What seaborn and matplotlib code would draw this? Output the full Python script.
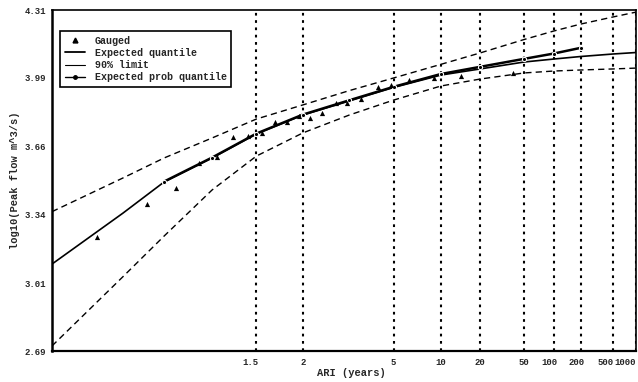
import math
import numpy as np
import pandas as pd
import matplotlib
matplotlib.use("Agg")
import matplotlib.pyplot as plt
import matplotlib.transforms as mtransforms
from matplotlib.lines import Line2D
import seaborn as sns
from statistics import NormalDist

# Annual recurrence intervals (years) at which the fitted curves are evaluated
curve_ari = [1.0101, 1.05, 1.11, 1.25, 1.5, 2, 3, 5, 10, 20, 50, 100, 200, 500, 1000]
# log10 peak flow quantiles
expected_q = [3.103, 3.345, 3.493, 3.607, 3.721, 3.811, 3.878, 3.942, 4.001, 4.030,
              4.063, 4.077, 4.089, 4.101, 4.108]
upper_90 = [3.352, 3.512, 3.607, 3.702, 3.792, 3.859, 3.927, 3.987, 4.052, 4.106,
            4.170, 4.210, 4.243, 4.277, 4.300]
lower_90 = [2.714, 3.043, 3.236, 3.455, 3.616, 3.726, 3.811, 3.882, 3.949, 3.982,
            4.011, 4.020, 4.025, 4.030, 4.034]

prob_ari = [1.11, 1.25, 1.5, 2, 3, 5, 10, 20, 50, 100, 200]
prob_q = [3.495, 3.609, 3.723, 3.813, 3.881, 3.945, 4.006, 4.040, 4.078, 4.103, 4.130]

# Gauged annual maxima at their plotting positions
gauged_ari = [1.029, 1.080, 1.136, 1.201, 1.270, 1.347, 1.438, 1.541, 1.658, 1.786,
              1.952, 2.104, 2.336, 2.648, 2.94, 3.41, 4.10, 4.85, 6.17, 9.0, 14.1, 39.0]
gauged_q = [3.232, 3.388, 3.464, 3.583, 3.612, 3.707, 3.711, 3.726, 3.778, 3.778,
            3.806, 3.797, 3.821, 3.868, 3.868, 3.887, 3.944, 3.952, 3.977, 3.987,
            3.997, 4.011]

ari_ticks = [1.5, 2, 5, 10, 20, 50, 100, 200, 500, 1000]
ari_labels = ["1.5", "2", "5", "10", "20", "50", "100", "200", "500", "1000"]
y_ticks = [2.69, 3.01, 3.34, 3.66, 3.99, 4.31]
y_labels = ["2.69", "3.01", "3.34", "3.66", "3.99", "4.31"]

_nd = NormalDist()


def _z_of(a):
    # standard normal variate of the non-exceedance probability 1 - 1/ARI
    if not math.isfinite(a):
        return 8.0 if a > 0 else -8.0
    if a <= 1.0 + 1e-12:
        return -8.0
    p = min(max(1.0 - 1.0 / a, 1e-15), 1 - 1e-15)
    return _nd.inv_cdf(p)


def _ari_of(z):
    if not math.isfinite(z):
        return 1e15 if z > 0 else 1.0
    p = min(_nd.cdf(z), 1 - 1e-15)
    return 1.0 / (1.0 - p)


ari_to_z = np.vectorize(_z_of, otypes=[float])
z_to_ari = np.vectorize(_ari_of, otypes=[float])

sns.set_theme(style="white")
mono = ["Liberation Mono", "DejaVu Sans Mono"]
plt.rcParams["font.family"] = mono

fig = plt.figure(figsize=(6.38, 3.82), dpi=100)
ax = fig.add_axes([52 / 638, 1 - 351 / 382, (636 - 52) / 638, (351 - 10) / 382])
ax.set_xlim(1.0101, 1000)
ax.set_xscale("function", functions=(ari_to_z, z_to_ari))
ax.set_xlim(1.0101, 1000)

curves = pd.DataFrame({"ari": curve_ari, "expected": expected_q,
                       "upper": upper_90, "lower": lower_90})
prob = pd.DataFrame({"ari": prob_ari, "q": prob_q})
gauged = pd.DataFrame({"ari": gauged_ari, "q": gauged_q})

# vertical ARI grid
for t in ari_ticks:
    ax.axvline(t, color="black", lw=1.5, ls=(0, (1.3, 2.2)), zorder=1)

sns.lineplot(data=curves, x="ari", y="upper", ax=ax, color="black", lw=1.0,
             linestyle=(0, (4.5, 3)), zorder=3)
sns.lineplot(data=curves, x="ari", y="lower", ax=ax, color="black", lw=1.0,
             linestyle=(0, (4.5, 3)), zorder=3)
sns.lineplot(data=curves, x="ari", y="expected", ax=ax, color="black", lw=1.2, zorder=4)
sns.lineplot(data=prob, x="ari", y="q", ax=ax, color="black", lw=1.8,
             marker="o", markersize=3, zorder=5)
sns.scatterplot(data=gauged, x="ari", y="q", ax=ax, color="black", marker="^",
                s=14, linewidth=0, zorder=6)

ax.set_xlim(1.0101, 1000)
ax.set_ylim(2.69, 4.31)
ax.set_xticks(ari_ticks)
ax.set_xticklabels(ari_labels)
ax.xaxis.set_minor_locator(matplotlib.ticker.NullLocator())
ax.set_yticks(y_ticks)
ax.set_yticklabels(y_labels)
ax.tick_params(axis="both", labelsize=6.5, length=2.5, width=1, direction="in",
               color="black")
ax.tick_params(axis="x", pad=5)
ax.tick_params(axis="y", pad=4)
for lab in ax.get_xticklabels() + ax.get_yticklabels():
    lab.set_fontweight("bold")

# nudge crowded ARI labels so they sit like the plotter's text
shifts = {"1.5": -6, "100": -4, "200": -4, "500": -8}
for lab in ax.get_xticklabels():
    txt = lab.get_text()
    if txt in shifts:
        off = mtransforms.ScaledTranslation(shifts[txt] / 100, 0, fig.dpi_scale_trans)
        lab.set_transform(lab.get_transform() + off)
    if txt == "1000":
        lab.set_horizontalalignment("right")

for side in ["left", "bottom", "top", "right"]:
    ax.spines[side].set_visible(True)
    ax.spines[side].set_color("black")
    ax.spines[side].set_linewidth(1.2)
ax.spines["left"].set_linewidth(1.8)
ax.spines["bottom"].set_linewidth(1.6)

ax.set_xlabel("ARI (years)", fontsize=7.5, fontweight="bold")
ax.xaxis.set_label_coords((351 - 52) / 584, -17 / 341)
ax.set_ylabel("log10(Peak flow m^3/s)", fontsize=7.5, fontweight="bold")
ax.yaxis.set_label_coords(-32 / 584, 0.5)

handles = [
    Line2D([], [], color="black", marker="^", ls="none", markersize=3.5),
    Line2D([], [], color="black", lw=1.3),
    Line2D([], [], color="black", lw=0.8),
    Line2D([], [], color="black", lw=1.0, marker="o", markersize=2.5),
]
labels = ["Gauged", "Expected quantile", "90% limit", "Expected prob quantile"]
leg = ax.legend(handles, labels, loc="upper left", bbox_to_anchor=(0.0137, 0.938),
                frameon=True, fancybox=False, edgecolor="black", framealpha=1,
                prop={"family": mono, "size": 7.2, "weight": "bold"},
                handlelength=2.0, handletextpad=1.0, borderpad=0.45,
                labelspacing=0.22, borderaxespad=0)
leg.get_frame().set_linewidth(1.2)

fig.savefig("out.png", dpi=100)
